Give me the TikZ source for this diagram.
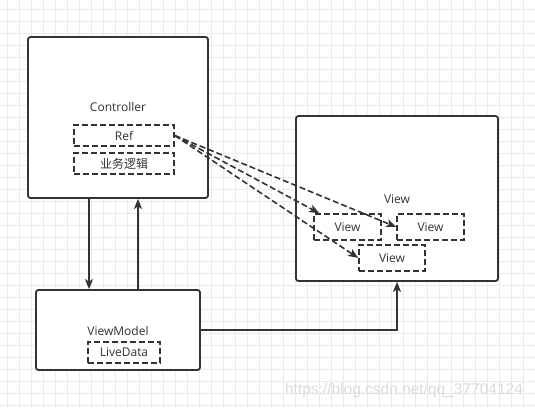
\documentclass[tikz,border=0pt]{standalone}
\usepackage{fontspec}
\setmainfont{Open Sans}
\newfontfamily\cjk{Noto Sans CJK SC}
\newfontfamily\wm{Liberation Sans}
\usetikzlibrary{arrows.meta,calc}
\definecolor{ink}{HTML}{333333}
\definecolor{txt}{HTML}{333333}
\definecolor{gridc}{HTML}{EAEAEA}
\begin{document}
\begin{tikzpicture}[x=1pt,y=-1pt,
  box/.style={draw=ink,line width=1.8pt,rounded corners=2.5pt,fill=white,inner sep=0pt},
  dbox/.style={draw=ink,line width=1.6pt,dash pattern=on 6pt off 3pt,fill=white,inner sep=0pt,
     text=txt,font=\fontsize{12}{14}\selectfont},
  lbl/.style={text=txt,font=\fontsize{12}{14}\selectfont,inner sep=0pt},
  arr/.style={draw=ink,line width=1.6pt,-{Stealth[length=10pt,width=8pt,inset=2.5pt]}},
  darr/.style={arr,dash pattern=on 6pt off 3pt}]
\useasboundingbox (0,0) rectangle (535,407);
\fill[white] (0,0) rectangle (535,407);
% grid
\foreach \i in {0,...,44} {\draw[gridc,line width=1pt] (7.3+12*\i,0) -- (7.3+12*\i,407);}
\foreach \j in {0,...,33} {\draw[gridc,line width=1pt] (0,9.3+12*\j) -- (535,9.3+12*\j);}
% watermark
\node[anchor=base,text=gray!28,font=\wm\fontsize{15.5}{17}\selectfont,inner sep=0pt] (wmark) at (404,394) {https://blog.csdn.net/qq\_37704124};
% Controller
\node[box,minimum width=180pt,minimum height=161pt] (ctrl) at (118,117.5) {};
\node[lbl] (ctrlT) at (118,107) {Controller};
\node[dbox,minimum width=100pt,minimum height=21pt] (ref) at (124,135.5) {Ref};
\node[dbox,minimum width=100pt,minimum height=21pt] (biz) at (124,163.5) {\cjk 业务逻辑};
% View
\node[box,minimum width=202pt,minimum height=165pt] (vbig) at (397,198.5) {};
\node[lbl] (vbigT) at (397,199) {View};
\node[dbox,minimum width=67pt,minimum height=26pt] (v1) at (347.5,227) {View};
\node[dbox,minimum width=67pt,minimum height=26pt] (v2) at (430.5,227) {View};
\node[dbox,minimum width=66pt,minimum height=26pt] (v3) at (392,258) {View};
% ViewModel
\node[box,minimum width=164pt,minimum height=80pt] (vm) at (118,330) {};
\node[lbl] (vmT) at (118,331) {ViewModel};
\node[dbox,minimum width=72pt,minimum height=21pt] (ld) at (124,352.5) {LiveData};
% connectors
\coordinate (dx) at (89,0);
\coordinate (ux) at (138,0);
\draw[arr] (ctrl.south -| dx) -- (vm.north -| dx);
\draw[arr] (vm.north -| ux) -- (ctrl.south -| ux);
\draw[arr] (vm.east) -| (vbig.south);
\draw[darr] (ref.east) -- ($(v1.north west)+(6,0)$);
\draw[darr] (ref.east) -- (v2.west);
\draw[darr] (ref.east) -- (v3.west);
\end{tikzpicture}
\end{document}
